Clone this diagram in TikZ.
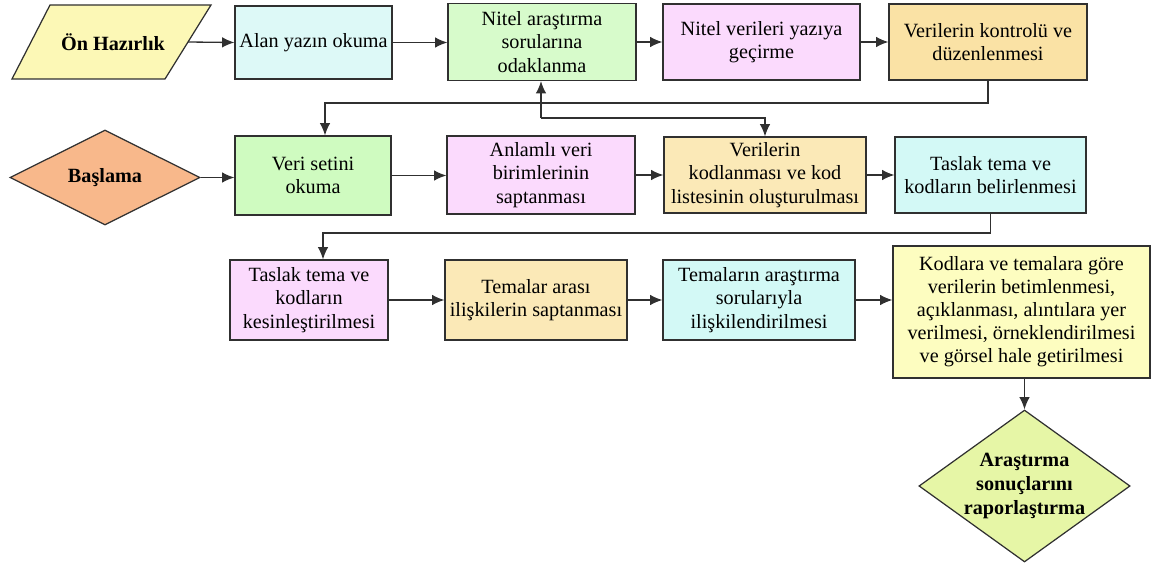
\documentclass[tikz,border=0pt]{standalone}
\usepackage{fontspec}
\setmainfont{LiberationSerif}[Extension=.ttf, UprightFont=*-Regular, BoldFont=*-Bold]
\usetikzlibrary{shapes.geometric,arrows.meta}
\definecolor{cPar}{HTML}{FCF8B6}
\definecolor{cCyan}{HTML}{DDF9F7}
\definecolor{cGreen}{HTML}{D7FBCB}
\definecolor{cGreenB}{HTML}{CFFBC0}
\definecolor{cPink}{HTML}{FBDAFD}
\definecolor{cOrange}{HTML}{FAE2A5}
\definecolor{cOrangeL}{HTML}{FBE9B7}
\definecolor{cCyanB}{HTML}{D3F9F6}
\definecolor{cBas}{HTML}{F8B88B}
\definecolor{cYel}{HTML}{FDFDC0}
\definecolor{cDia}{HTML}{E6F6A6}
\definecolor{cLine}{HTML}{303030}
\tikzset{
  box/.style={draw=cLine, line width=0.7pt, rectangle, align=center, inner sep=1pt,
    font=\fontsize{11.5}{13.4}\selectfont},
  dia/.style={draw=cLine, line width=0.7pt, diamond, align=center, inner sep=0pt,
    font=\fontsize{11.5}{13.4}\selectfont\bfseries},
  arr/.style={draw=cLine, line width=0.75pt, -{Latex[length=7pt,width=6pt]}},
  conn/.style={draw=cLine, line width=0.7pt},
}
\begin{document}
\begin{tikzpicture}[x=0.02cm, y=-0.02cm]
\useasboundingbox (0,0) rectangle (1151,564);
% row 1
\draw[conn, fill=cPar] (50,5) -- (211,5) -- (165,79) -- (12,79) -- cycle;
\node[font=\fontsize{11.5}{13.4}\selectfont\bfseries] (onh) at (113,42) {Ön Hazırlık};
\coordinate (onhE) at (188,42);
\node[box, fill=cCyan, minimum width=3.14cm, minimum height=1.46cm] (alan) at (313.5,42.5) {Alan yazın okuma};
\node[box, fill=cGreen, minimum width=3.76cm, minimum height=1.54cm] (nitel) at (542,42) {Nitel araştırma\\sorularına\\odaklanma};
\node[box, fill=cPink, minimum width=3.94cm, minimum height=1.52cm] (yaz) at (761.5,42) {Nitel verileri yazıya\\geçirme};
\node[box, fill=cOrange, minimum width=3.96cm, minimum height=1.52cm] (kont) at (988,42) {Verilerin kontrolü ve\\düzenlenmesi};
% row 2
\node[dia, fill=cBas, minimum width=3.8cm, minimum height=1.9cm, aspect=2] (bas) at (105,177.5) {Başlama};
\node[box, fill=cGreenB, minimum width=3.12cm, minimum height=1.58cm] (veri) at (313,175.5) {Veri setini\\okuma};
\node[box, fill=cPink, minimum width=3.76cm, minimum height=1.56cm] (anl) at (541,175) {Anlamlı veri\\birimlerinin\\saptanması};
\node[box, fill=cOrangeL, minimum width=4.04cm, minimum height=1.52cm] (kod) at (765,175) {Verilerin\\kodlanması ve kod\\listesinin oluşturulması};
\node[box, fill=cCyanB, minimum width=3.82cm, minimum height=1.52cm] (tas) at (990.5,175) {Taslak tema ve\\kodların belirlenmesi};
% row 3
\node[box, fill=cPink, minimum width=3.16cm, minimum height=1.6cm] (kes) at (309,300) {Taslak tema ve\\kodların\\kesinleştirilmesi};
\node[box, fill=cOrangeL, minimum width=3.64cm, minimum height=1.6cm] (tem) at (536,300) {Temalar arası\\ilişkilerin saptanması};
\node[box, fill=cCyanB, minimum width=3.84cm, minimum height=1.6cm] (ara) at (759,300) {Temaların araştırma\\sorularıyla\\ilişkilendirilmesi};
\node[box, fill=cYel, minimum width=5.14cm, minimum height=2.64cm, font=\fontsize{11.5}{13.1}\selectfont] (kdl) at (1021.5,312) {Kodlara ve temalara göre\\verilerin betimlenmesi,\\açıklanması, alıntılara yer\\verilmesi, örneklendirilmesi\\ve görsel hale getirilmesi};
\node[dia, fill=cDia, minimum width=4.22cm, minimum height=3.04cm, aspect=1.39] (rap) at (1024.5,486) {Araştırma\\sonuçlarını\\raporlaştırma};
% connectors
\draw[arr] (onhE) -- (alan.west);
\draw[arr] (alan.east) -- (alan.east -| nitel.west);
\draw[arr] (nitel.east) -- (nitel.east -| yaz.west);
\draw[arr] (yaz.east) -- (yaz.east -| kont.west);
\coordinate (k1) at (988,103);
\coordinate (k2) at (325,103);
\draw[arr] (kont.south) -- (k1) -- (k2) -- (k2 |- veri.north);
\coordinate (b1) at (541,118);
\coordinate (b2) at (765,118);
\draw[arr] (b1) -- (b1 |- nitel.south);
\draw[arr] (b1) -- (b2) -- (kod.north);
\draw[arr] (bas.east) -- (bas.east -| veri.west);
\draw[arr] (veri.east) -- (veri.east -| anl.west);
\draw[arr] (anl.east) -- (anl.east -| kod.west);
\draw[arr] (kod.east) -- (kod.east -| tas.west);
\coordinate (t1) at (990.5,233);
\coordinate (t2) at (323,233);
\draw[arr] (tas.south) -- (t1) -- (t2) -- (t2 |- kes.north);
\draw[arr] (kes.east) -- (kes.east -| tem.west);
\draw[arr] (tem.east) -- (tem.east -| ara.west);
\draw[arr] (ara.east) -- (ara.east -| kdl.west);
\coordinate (r1) at (1024.5,378);
\draw[arr] (r1) -- (rap.north);
\end{tikzpicture}
\end{document}
